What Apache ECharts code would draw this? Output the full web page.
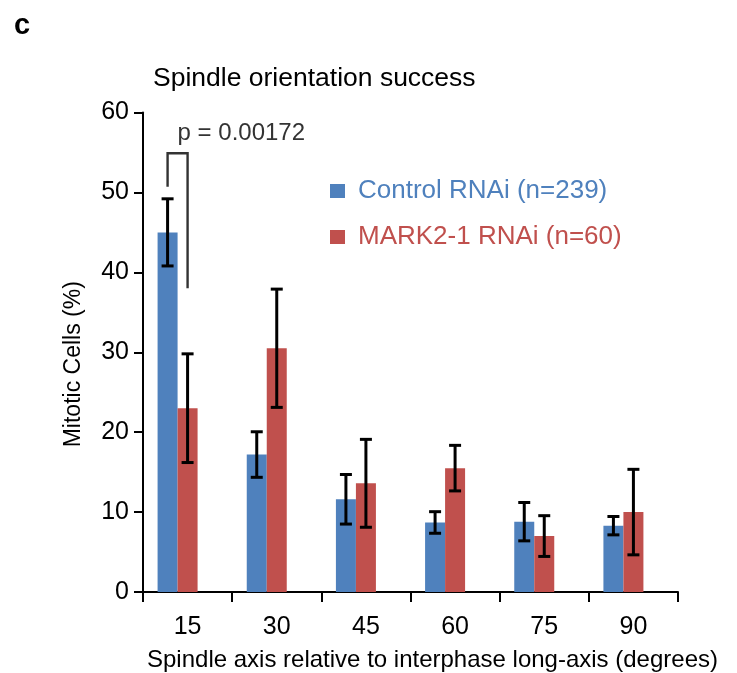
<!DOCTYPE html>
<html>
<head>
<meta charset="utf-8">
<script src="https://cdn.jsdelivr.net/npm/echarts@6/dist/echarts.min.js"></script>
<style>html,body{margin:0;padding:0;background:#fff;}#c{width:737px;height:673px;}</style>
</head>
<body>
<div id="c"></div>
<script>
// ---- data ----
const categories = ['15', '30', '45', '60', '75', '90'];
const controlMean = [45.0, 17.2, 11.6, 8.7, 8.8, 8.3];
const controlErr  = [4.2, 2.85, 3.1, 1.35, 2.4, 1.15];
const markMean    = [23.0, 30.5, 13.6, 15.5, 7.0, 10.0];
const markErr     = [6.8, 7.4, 5.5, 2.85, 2.55, 5.35];
const yTicks = [0, 10, 20, 30, 40, 50, 60];
const seriesNames = ['Control RNAi (n=239)', 'MARK2-1 RNAi (n=60)'];
const pLabel = 'p = 0.00172';
// bracket: [category index, top value, left end value, right end value]
const bracket = [[0, 54.9, 50.7, 38.0]];
const pTextValue = 57.4;

const BLUE = '#4F81BD', RED = '#C0504D';
const FONT = 'Liberation Sans, Arial, sans-serif';
const BAR_W = 20;

function errData(mean, err) {
  return mean.map((m, i) => [i, m - err[i], m + err[i]]);
}

function errRender(offset) {
  return function (params, api) {
    const i = api.value(0);
    const lo = api.coord([i, api.value(1)]);
    const hi = api.coord([i, api.value(2)]);
    const x = lo[0] + offset;
    const cap = 6;
    const st = { stroke: '#000', lineWidth: 3 };
    return {
      type: 'group',
      children: [
        { type: 'line', shape: { x1: x, y1: lo[1], x2: x, y2: hi[1] }, style: st },
        { type: 'line', shape: { x1: x - cap, y1: lo[1], x2: x + cap, y2: lo[1] }, style: st },
        { type: 'line', shape: { x1: x - cap, y1: hi[1], x2: x + cap, y2: hi[1] }, style: st }
      ]
    };
  };
}

const chart = echarts.init(document.getElementById('c'), null, { renderer: 'canvas' });
chart.setOption({
  animation: false,
  textStyle: { fontFamily: FONT },
  title: [
    { text: 'c', left: 9, top: 6, textStyle: { fontFamily: FONT, fontSize: 29, fontWeight: 'bold', color: '#000' } },
    { text: 'Spindle orientation success', left: 148, top: 60, textStyle: { fontFamily: FONT, fontSize: 26.5, fontWeight: 'normal', color: '#000' } }
  ],
  legend: {
    orient: 'vertical',
    left: 330,
    top: 178,
    padding: 0,
    itemWidth: 15,
    itemHeight: 14,
    itemGap: 20,
    icon: 'rect',
    textStyle: { fontFamily: FONT, fontSize: 26, padding: [0, 0, 0, 8] },
    data: [
      { name: seriesNames[0], textStyle: { color: BLUE } },
      { name: seriesNames[1], textStyle: { color: RED } }
    ]
  },
  grid: { left: 143, right: 59, top: 112.5, bottom: 81, containLabel: false, outerBoundsMode: 'none' },
  xAxis: {
    type: 'category',
    data: categories,
    axisLine: { lineStyle: { color: '#000', width: 2 } },
    axisTick: { show: true, length: 10, lineStyle: { color: '#000', width: 2 } },
    axisLabel: { fontFamily: FONT, fontSize: 25, color: '#000', margin: 23 },
    name: 'Spindle axis relative to interphase long-axis (degrees)',
    nameLocation: 'middle',
    nameGap: 56,
    nameTextStyle: { fontFamily: FONT, fontSize: 24, color: '#000', padding: [0, 0, 0, 44] }
  },
  yAxis: {
    type: 'value',
    min: yTicks[0],
    max: yTicks[yTicks.length - 1],
    interval: yTicks[1] - yTicks[0],
    splitLine: { show: false },
    axisLine: { show: true, lineStyle: { color: '#000', width: 2 } },
    axisTick: { show: true, length: 9, lineStyle: { color: '#000', width: 2 } },
    axisLabel: { fontFamily: FONT, fontSize: 25, color: '#000', margin: 14 },
    name: 'Mitotic Cells (%)',
    nameLocation: 'middle',
    nameGap: 58,
    nameRotate: 90,
    nameTextStyle: { fontFamily: FONT, fontSize: 23, color: '#000', padding: [0, 24, 0, 0] }
  },
  series: [
    { name: seriesNames[0], type: 'bar', data: controlMean, barWidth: BAR_W, barGap: '0%', itemStyle: { color: BLUE } },
    { name: seriesNames[1], type: 'bar', data: markMean, barWidth: BAR_W, barGap: '0%', itemStyle: { color: RED } },
    { name: 'spacer', type: 'bar', data: categories.map(() => null), barWidth: BAR_W, barGap: '0%' },
    { type: 'custom', data: errData(controlMean, controlErr), renderItem: errRender(-BAR_W), encode: { x: 0, y: [1, 2] }, z: 5 },
    { type: 'custom', data: errData(markMean, markErr), renderItem: errRender(0), encode: { x: 0, y: [1, 2] }, z: 5 },
    {
      type: 'custom', data: bracket, z: 6,
      encode: { x: 0, y: [1, 2, 3] },
      renderItem: function (params, api) {
        const i = api.value(0);
        const top = api.coord([i, api.value(1)]);
        const l = api.coord([i, api.value(2)]);
        const r = api.coord([i, api.value(3)]);
        const pt = api.coord([i, pTextValue]);
        const xl = top[0] - BAR_W, xr = top[0];
        return {
          type: 'group',
          children: [
            { type: 'polyline', shape: { points: [[xl, l[1]], [xl, top[1]], [xr, top[1]], [xr, r[1]]] },
              style: { stroke: '#333', lineWidth: 2.4, fill: null } },
            { type: 'text', x: (xl + xr) / 2, y: pt[1],
              style: { text: pLabel, font: '24px ' + FONT, fill: '#333', align: 'left', verticalAlign: 'middle' } }
          ]
        };
      }
    }
  ]
});
</script>
</body>
</html>
